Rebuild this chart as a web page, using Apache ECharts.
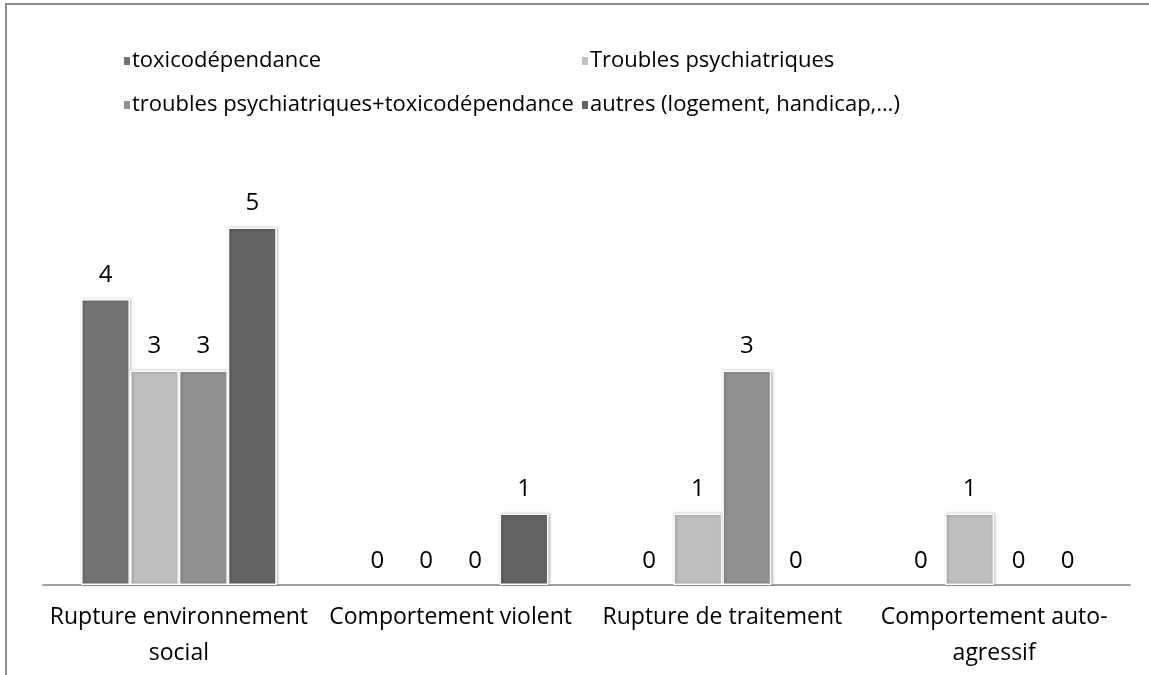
<!DOCTYPE html>
<html>
<head>
<meta charset="utf-8">
<script src="https://cdn.jsdelivr.net/npm/echarts@6/dist/echarts.min.js"></script>
<style>
  * { margin: 0; padding: 0; }
  body { background: #fff; }
  #frame { position: absolute; left: 5px; top: 3px; width: 1144px; height: 672px;
           border-top: 2px solid #8c8c8c; border-left: 2px solid #8c8c8c; }
  #main { position: absolute; left: 0; top: 0; width: 1149px; height: 675px; }
</style>
</head>
<body>
<div id="frame"></div>
<div id="main"></div>
<script>
  // catégories et valeurs
  var categories = ['Rupture environnement\nsocial', 'Comportement violent', 'Rupture de traitement', 'Comportement auto-\nagressif'];
  var seriesNames = ['toxicodépendance', 'Troubles psychiatriques', 'troubles psychiatriques+toxicodépendance', 'autres (logement, handicap,…)'];
  var toxico = [4, 0, 0, 0];
  var troubles = [3, 0, 1, 1];
  var troublesToxico = [3, 0, 3, 0];
  var autres = [5, 1, 0, 0];
  var colors = ['#747474', '#bfbfbf', '#919191', '#636363'];

  var font = '"Open Sans", sans-serif';
  var chart = echarts.init(document.getElementById('main'));

  function mkSeries(i, data) {
    return {
      name: seriesNames[i],
      type: 'bar',
      // pas de bordure ni d'ombre sur les barres nulles
      data: data.map(function (v) {
        return v === 0 ? { value: v, itemStyle: { borderWidth: 0, shadowBlur: 0, shadowOffsetX: 0 } } : v;
      }),
      barWidth: '18%',
      barGap: '0%',
      itemStyle: {
        color: colors[i],
        borderColor: '#fff',
        borderWidth: 1.5,
        shadowBlur: 3,
        shadowColor: 'rgba(0,0,0,0.3)',
        shadowOffsetX: 1,
        shadowOffsetY: 0
      },
      label: {
        show: true,
        position: 'top',
        distance: 12,
        color: '#000',
        fontSize: 24,
        fontFamily: font
      }
    };
  }

  var legendText = { fontSize: 22, fontFamily: font, color: '#000', padding: [0, 0, 0, -4] };

  chart.setOption({
    animation: false,
    color: colors,
    legend: [
      {
        orient: 'vertical',
        left: 117, top: 45,
        itemWidth: 8, itemHeight: 10, itemGap: 22,
        icon: 'rect',
        textStyle: legendText,
        data: [seriesNames[0], seriesNames[2]]
      },
      {
        orient: 'vertical',
        left: 575, top: 45,
        itemWidth: 8, itemHeight: 10, itemGap: 22,
        icon: 'rect',
        textStyle: legendText,
        data: [seriesNames[1], seriesNames[3]]
      }
    ],
    grid: { left: 43, right: 19, top: 156, bottom: 90 },
    xAxis: {
      type: 'category',
      data: categories,
      axisLine: { lineStyle: { color: '#a0a0a0', width: 2 } },
      axisTick: { show: false },
      axisLabel: { color: '#000', fontSize: 23, fontFamily: font, lineHeight: 36, margin: 14, interval: 0 }
    },
    yAxis: {
      type: 'value',
      min: 0, max: 6, interval: 1,
      show: false,
      splitLine: { show: false }
    },
    series: [
      mkSeries(0, toxico),
      mkSeries(1, troubles),
      mkSeries(2, troublesToxico),
      mkSeries(3, autres)
    ]
  });
</script>
</body>
</html>
